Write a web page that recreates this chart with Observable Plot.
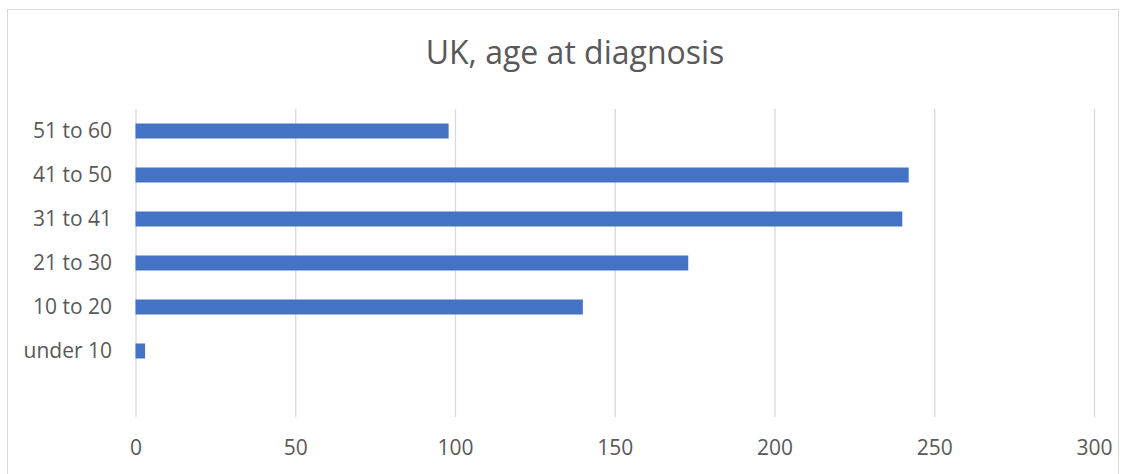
<!DOCTYPE html>
<html>
<head>
<meta charset="utf-8">
<script src="https://cdn.jsdelivr.net/npm/d3@7"></script>
<script src="https://cdn.jsdelivr.net/npm/@observablehq/plot@0.6"></script>
<style>
  html, body { margin: 0; padding: 0; background: #fff; width: 1131px; height: 474px; overflow: hidden; }
  #frame { position: absolute; left: 7px; top: 9px; width: 1112px; height: 500px; border: 1px solid #d9d9d9; box-sizing: border-box; }
  #title { position: absolute; left: 0; top: 31.5px; width: 1150px; text-align: center; font-family: "Open Sans", sans-serif; font-size: 32px; color: #595959; line-height: 40px; white-space: nowrap; }
  #chart { position: absolute; left: 0; top: 0; }
</style>
</head>
<body>
<div id="frame"></div>
<div id="title">UK, age at diagnosis</div>
<div id="chart"></div>
<script>
const categories = ["51 to 60", "41 to 50", "31 to 41", "21 to 30", "10 to 20", "under 10", ""];
const ageGroups = ["under 10", "10 to 20", "21 to 30", "31 to 41", "41 to 50", "51 to 60"];
const counts = [3, 140, 173, 240, 242, 98];
const xTicks = [0, 50, 100, 150, 200, 250, 300];

const data = ageGroups.map((g, i) => ({group: g, count: counts[i]}));

const chart = Plot.plot({
  width: 1131,
  height: 474,
  marginLeft: 135.5,
  marginRight: 37,
  marginTop: 109,
  marginBottom: 57,
  style: { fontFamily: "Open Sans, sans-serif", fontSize: "21px", color: "#595959", background: "transparent" },
  x: { domain: [0, 300], ticks: xTicks, label: null },
  y: { domain: categories, paddingInner: 0, paddingOuter: 0, label: null },
  marks: [
    Plot.gridX(xTicks, { stroke: "#d9d9d9", strokeOpacity: 1, strokeWidth: 1.3 }),
    Plot.barX(data, { x: "count", y: "group", fill: "#4472C4", insetTop: 14.5, insetBottom: 14.5 }),
    Plot.axisX({ ticks: xTicks, tickSize: 0, tickPadding: 23, label: null, fill: "#595959", fontSize: 21 }),
    Plot.axisY({ tickSize: 0, tickPadding: 24, label: null, fill: "#595959", fontSize: 21 })
  ]
});
document.getElementById("chart").appendChild(chart);
</script>
</body>
</html>
